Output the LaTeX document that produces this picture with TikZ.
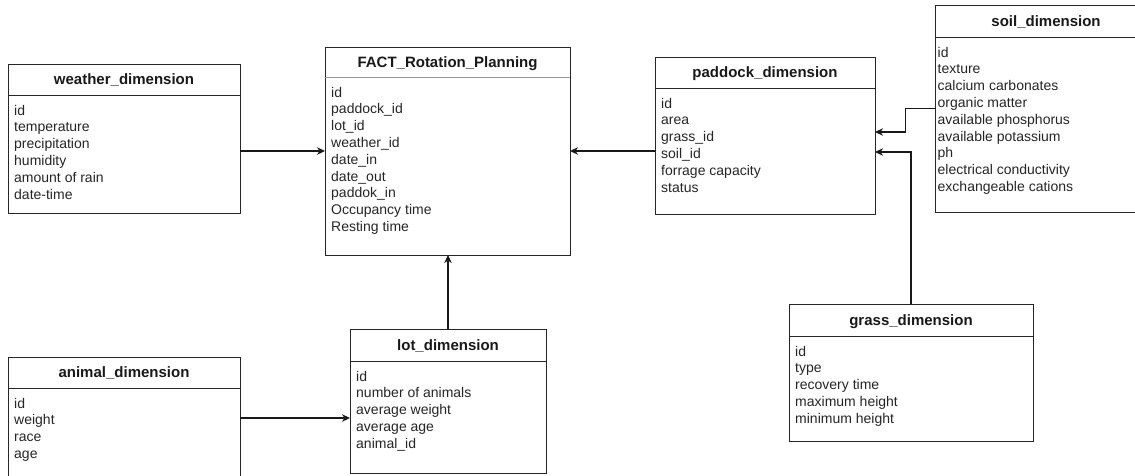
\documentclass[tikz,border=0pt]{standalone}
\usepackage{fontspec}
\setmainfont{Liberation Sans}
\usetikzlibrary{arrows.meta,calc}
\tikzset{
  tbl/.style={draw=black!85, line width=1pt, fill=white, anchor=north west, inner sep=0pt, outer sep=0pt},
  hdrline/.style={draw=black!85, line width=1pt},
  hdrtxt/.style={font=\fontsize{15}{18}\selectfont\bfseries, anchor=base, inner sep=0pt, text=black!90},
  item/.style={font=\fontsize{14}{16.8}\selectfont, anchor=base west, inner sep=0pt, text=black!85},
  conn/.style={line width=1.2pt, draw=black!90, -{Stealth[length=8pt,width=7.5pt,inset=2.5pt]}}
}
% name, x, y, w, h, header line y, text padding, title, items
\newcommand\erbox[9]{%
  \node[tbl, minimum width=#4pt, minimum height=#5pt] (#1) at (#2,#3) {};
  \draw[hdrline] (#2,#6) -- ++(#4,0);
  \node[hdrtxt] (#1-title) at ({#2+#4/2},{(#3+#6)/2+5.4}) {#8};
  \foreach \t [count=\i from 0] in {#9} {
    \node[item] (#1-\i) at ({#2+#7},{#6+20+\i*16.8}) {\t};
  }%
}
\begin{document}
\begin{tikzpicture}[x=1pt,y=-1pt]
  \useasboundingbox (0,0) rectangle (1135,475);
  \fill[white] (0,0) rectangle (1135,475);
  \clip (0,0) rectangle (1135,475);

  \erbox{weather}{8}{64}{232}{149}{95}{6}{weather\_dimension}{id,temperature,precipitation,humidity,amount of rain,date-time}
  \begin{scope}[hdrline/.style={draw=black!40, line width=1pt}]
  \erbox{fact}{325}{47}{245}{208}{77}{6}{FACT\_Rotation\_Planning}{id,paddock\_id,lot\_id,weather\_id,date\_in,date\_out,paddok\_in,Occupancy time,Resting time}
  \end{scope}
  \erbox{paddock}{655}{57}{220}{157}{88}{6}{paddock\_dimension}{id,area,grass\_id,soil\_id,forrage capacity,status}
  \erbox{soil}{935.5}{5}{221}{207}{37}{2}{soil\_dimension}{id,texture,calcium carbonates,organic matter,available phosphorus,available potassium,ph,electrical conductivity,exchangeable cations}
  \erbox{animal}{8}{357}{232}{122}{388}{6}{animal\_dimension}{id,weight,race,age}
  \erbox{lot}{350}{329}{196}{144}{361}{6}{lot\_dimension}{id,number of animals,average weight,average age,animal\_id}
  \erbox{grass}{789}{304}{244}{137}{336}{6}{grass\_dimension}{id,type,recovery time,maximum height,minimum height}

  \coordinate (pinsoil) at ($(paddock.east)+(0,-3.5)$);
  \coordinate (pingrass) at ($(paddock.east)+(0,16.5)$);

  \draw[conn] (weather.east |- fact.west) -- (fact.west);
  \draw[conn] (paddock.west |- fact.east) -- (fact.east);
  \draw[conn] (lot.north) -- (lot.north |- fact.south);
  \draw[conn] (animal.east) -- (animal.east -| lot.west);
  \draw[conn] (soil.west) -- ++(-30,0) |- (pinsoil);
  \draw[conn] (grass.north) |- (pingrass);
\end{tikzpicture}
\end{document}
